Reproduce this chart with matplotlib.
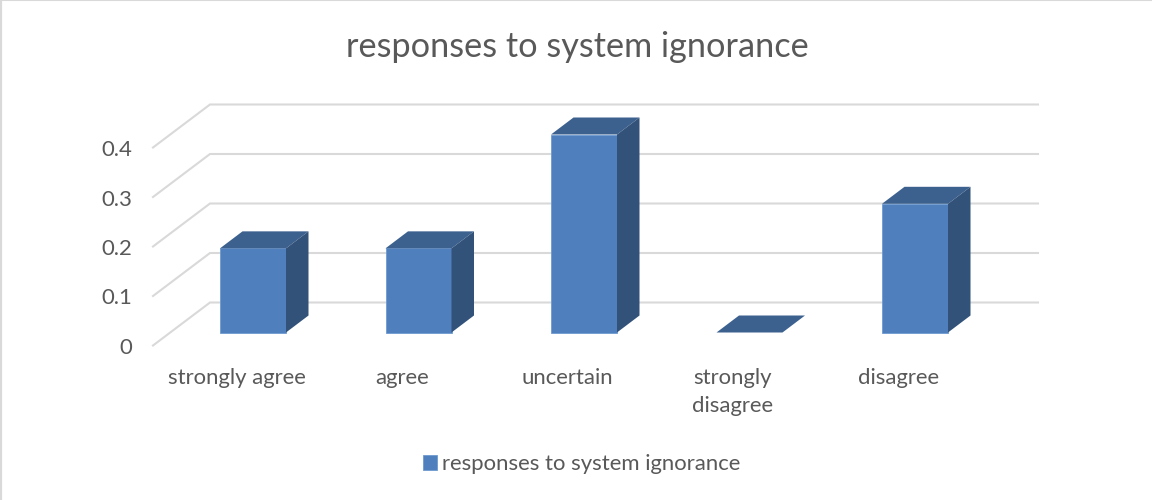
import matplotlib
matplotlib.use("Agg")
import matplotlib.pyplot as plt
from matplotlib.patches import Polygon

categories = ["strongly agree", "agree", "uncertain", "strongly\ndisagree", "disagree"]
values = [0.17, 0.17, 0.40, 0.0, 0.26]
y_ticks = [0, 0.1, 0.2, 0.3, 0.4]
y_tick_labels = ["0", "0.1", "0.2", "0.3", "0.4"]
title = "responses to system ignorance"

plt.rcParams["font.family"] = ["Lato", "DejaVu Sans"]

TEXT = "#595959"
GRID = "#D9D9D9"
FRONT = "#4F80BD"
TOP = "#3C618F"
SIDE = "#325279"
FS = 15.95

# pixels of the original chart
W, H = 1152, 500
X0, STEP = 253.0, 165.5     # first bar centre, distance between bars
Y0, UNIT = 332.5, 495.0     # bar floor, pixels per 1.0

BAR_W = 66 / STEP
DX, DY = 22.5 / STEP, 17 / UNIT             # depth of a bar
FLOOR_FRONT = -13 / UNIT                    # front edge of the floor
FLOOR_BACK = 30 / UNIT                      # back wall
LEFT_FRONT = (153 - X0) / STEP
LEFT_BACK = (210 - X0) / STEP
RIGHT_BACK = (1038 - X0) / STEP
LABEL_SHIFT = -16.5 / STEP


def main():
    fig = plt.figure(figsize=(W / 100, H / 100), dpi=100)
    ax = fig.add_axes([0, 0, 1, 1])
    ax.set_xlim(-X0 / STEP, (W - X0) / STEP)
    ax.set_ylim((Y0 - H) / UNIT, Y0 / UNIT)
    ax.axis("off")

    # gridlines: diagonal on the side wall, flat on the back wall
    for t, lab in zip(y_ticks, y_tick_labels):
        ax.plot([LEFT_FRONT, LEFT_BACK, RIGHT_BACK],
                [t + FLOOR_FRONT, t + FLOOR_BACK, t + FLOOR_BACK],
                color=GRID, lw=1.5, zorder=1, solid_joinstyle="miter")
        ax.text(LEFT_FRONT - 21 / STEP, t + FLOOR_FRONT - 2.5 / UNIT, lab, ha="right", va="center",
                fontsize=FS, color=TEXT)

    xs = list(range(len(values)))
    edges = ["#6F9BD1" if v > 0 else "none" for v in values]
    bars = ax.bar(xs, values, width=BAR_W, color=FRONT, edgecolor=edges, linewidth=0.6,
                  zorder=3, label=title)

    for x, v in zip(xs, values):
        l, r = x - BAR_W / 2, x + BAR_W / 2
        ax.add_patch(Polygon([(l, v), (r, v), (r + DX, v + DY), (l + DX, v + DY)],
                             facecolor=TOP, edgecolor="none", zorder=3))
        if v > 0:
            ax.add_patch(Polygon([(r, 0), (r + DX, DY), (r + DX, v + DY), (r, v)],
                                 facecolor=SIDE, edgecolor="none", zorder=3))
        ax.text(x + LABEL_SHIFT, -35 / UNIT, categories[x], ha="center", va="top",
                fontsize=FS, color=TEXT, linespacing=1.52)

    ax.text((577 - X0) / STEP, (Y0 - 47) / UNIT, title, ha="center", va="center",
            fontsize=24.65, color=TEXT)

    ax.legend(handles=[bars], loc="center", bbox_to_anchor=(581.5 / W, 1 - 464.5 / H),
              frameon=False, fontsize=FS, labelcolor=TEXT, handlelength=0.63,
              handleheight=0.63, handletextpad=0.22, borderpad=0)

    # thin border of the original screenshot
    ax.plot([0, 0], [0, 1], transform=ax.transAxes, color=GRID, lw=3, clip_on=True)
    ax.plot([0, 1], [1, 1], transform=ax.transAxes, color=GRID, lw=1.5, clip_on=True)

    fig.savefig("out.png", dpi=100)


if __name__ == "__main__":
    main()
